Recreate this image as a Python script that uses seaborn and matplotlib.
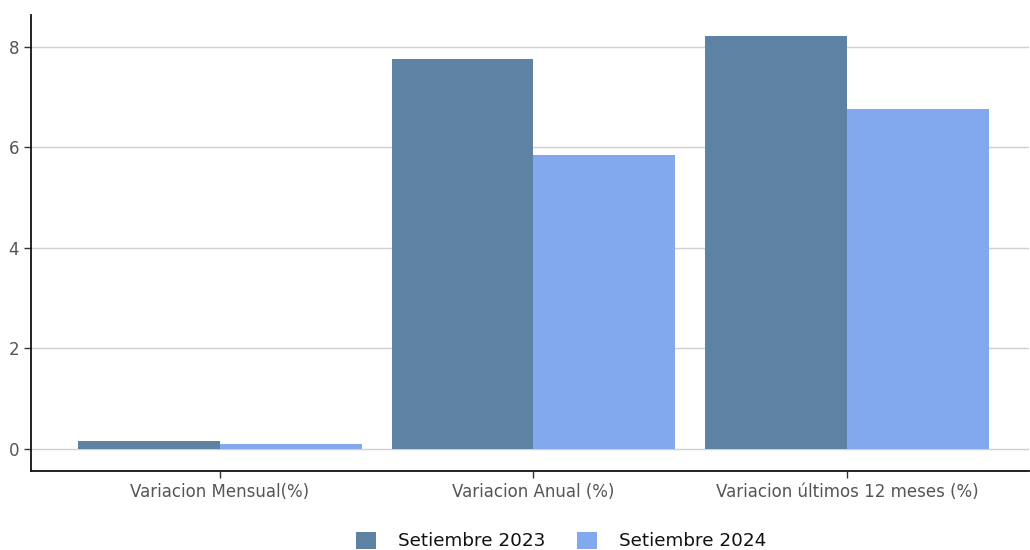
import matplotlib
matplotlib.use("Agg")
import matplotlib.pyplot as plt
import seaborn as sns
import pandas as pd
from matplotlib.patches import Patch

categories = ["Variacion Mensual(%)", "Variacion Anual (%)", "Variacion últimos 12 meses (%)"]
series_names = ["Setiembre 2023", "Setiembre 2024"]
values_2023 = [0.15, 7.75, 8.21]
values_2024 = [0.09, 5.84, 6.76]
colors = ["#5e82a3", "#82a8ee"]

df = pd.DataFrame({
    "categoria": categories * 2,
    "serie": [series_names[0]] * 3 + [series_names[1]] * 3,
    "valor": values_2023 + values_2024,
})

sns.set_theme(style="white")
plt.rcParams['font.family'] = ['DejaVu Sans']

fig = plt.figure(figsize=(10.3, 5.5), dpi=100)
ax = fig.add_axes([31/1030, 1 - 470.7/550, (1029-31)/1030, (470.7-15)/550])

sns.barplot(data=df, x="categoria", y="valor", hue="serie", palette=colors,
            width=0.904, saturation=1, ax=ax, legend=False, linewidth=0)

ax.set_xlim(-0.602, 2.58)
ax.set_ylim(-0.44, 8.63)
ax.set_yticks([0, 2, 4, 6, 8])
ax.grid(axis="y", color="#d0d0d0", linewidth=1)
ax.set_axisbelow(True)
ax.set_xlabel("")
ax.set_ylabel("")
for s in ["top", "right"]:
    ax.spines[s].set_visible(False)
for s in ["left", "bottom"]:
    ax.spines[s].set_color("#111111")
    ax.spines[s].set_linewidth(1.3)
ax.tick_params(axis="both", colors="#555555", labelsize=12, length=5, width=1, left=True, bottom=True)
ax.tick_params(axis="both", color="#333333")

handles = [Patch(facecolor=c, edgecolor="none") for c in colors]
fig.legend(handles, series_names, loc="center", bbox_to_anchor=(0.545, 1 - 541/550),
           ncol=2, frameon=False, fontsize=13.2, handlelength=1.09, handleheight=1.09,
           columnspacing=1.75, handletextpad=1.2, labelcolor="#111111")

fig.savefig("out.png", dpi=100)
